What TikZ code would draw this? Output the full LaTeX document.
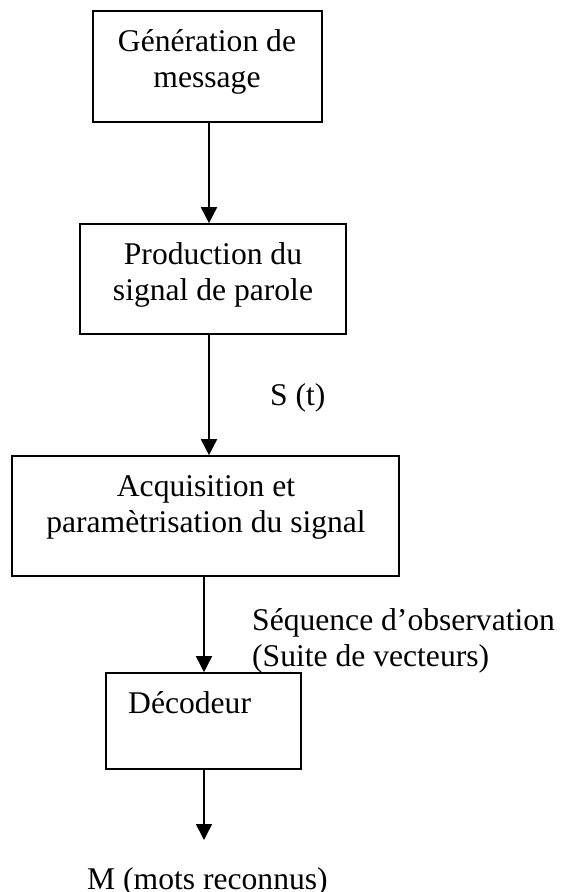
\documentclass[tikz,border=0pt]{standalone}
\usepackage{fontspec}
\setmainfont{Liberation Serif}
\usetikzlibrary{arrows.meta}

\tikzset{
  stagebox/.style={draw, line width=1.6pt, inner sep=0pt, fill=white},
  caption/.style={inner sep=0pt, font=\fontsize{31.6}{36}\selectfont},
  flow/.style={line width=1.6pt, -{Triangle[width=16pt,length=16pt]}}
}

\begin{document}
\begin{tikzpicture}[x=1pt, y=-1pt]
  \useasboundingbox (0,0) rectangle (560,892);

  % processing stages
  \node[stagebox, minimum width=229pt, minimum height=111pt] (gen)  at (207.5,66.5) {};
  \node[stagebox, minimum width=266pt, minimum height=110pt] (prod) at (213,279) {};
  \node[stagebox, minimum width=387pt, minimum height=120pt] (acq)  at (205.5,516) {};
  \node[stagebox, minimum width=195pt, minimum height=96pt]  (dec)  at (203.5,721) {};

  % stage titles (anchored on the baseline of their last line)
  \node[caption, anchor=base, align=center] (genT)  at (207,87)  {Génération de\\message};
  \node[caption, anchor=base, align=center] (prodT) at (213,300) {Production du\\signal de parole};
  \node[caption, anchor=base, align=center] (acqT)  at (206,532) {Acquisition et\\paramètrisation du signal};
  \node[caption, anchor=base west] (decT) at (128,713) {Décodeur};

  % signal labels
  \node[caption, anchor=base west] (sig) at (270,405) {S (t)};
  \node[caption, anchor=base west, align=left] (obs) at (252,666) {Séquence d’observation\\(Suite de vecteurs)};
  \node[caption, anchor=base west] (words) at (87,889) {M (mots reconnus)};

  % flow between stages
  \coordinate (out) at (204,840);
  \draw[flow] ([xshift=1.5pt]gen.south) -- ([xshift=1.5pt]gen.south |- prod.north);
  \draw[flow] ([xshift=-4pt]prod.south) -- ([xshift=-4pt]prod.south |- acq.north);
  \draw[flow] ([xshift=-1.5pt]acq.south) -- ([xshift=-1.5pt]acq.south |- dec.north);
  \draw[flow] (dec.south) ++(0.5,0) -- (out);
\end{tikzpicture}
\end{document}
